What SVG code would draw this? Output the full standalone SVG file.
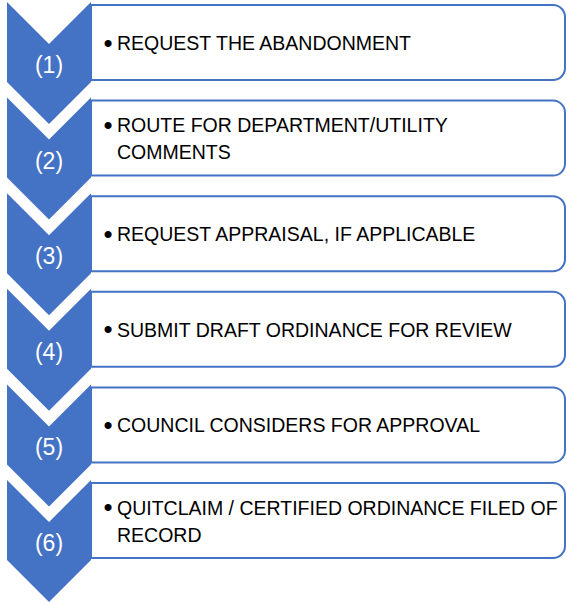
<svg xmlns="http://www.w3.org/2000/svg" xmlns:xlink="http://www.w3.org/1999/xlink" width="567" height="602" viewBox="0 0 567 602">
  <style>
    .chev { fill: #4472C4; }
    .box { fill: #FFFFFF; stroke: #4472C4; stroke-width: 2; }
    .num { font-family: "Liberation Sans", Arial, sans-serif; font-size: 23px; fill: #FFFFFF; text-anchor: middle; }
    .txt { font-family: "Liberation Sans", Arial, sans-serif; font-size: 19.5px; fill: #000000; }
    .bul { font-family: "Liberation Sans", Arial, sans-serif; font-size: 26px; fill: #000000; }
  </style>
  <defs>
    <path id="chev" d="M7,0 L49,42 L91,0 L91,80 L49,122 L7,80 Z"/>
    <path id="box" d="M91,0 H553 A12,12 0 0 1 565,12 V63 A12,12 0 0 1 553,75 H91 Z"/>
  </defs>

  <g id="step1">
    <use xlink:href="#chev" class="chev" transform="translate(0,2)"/>
    <text class="num" x="49" y="73">(1)</text>
    <use xlink:href="#box" class="box" transform="translate(0,5)"/>
    <text class="bul" x="103.5" y="51.5">•</text>
    <text class="txt" x="117" y="50">REQUEST THE ABANDONMENT</text>
  </g>

  <g id="step2">
    <use xlink:href="#chev" class="chev" transform="translate(0,97.6)"/>
    <text class="num" x="49" y="168.6">(2)</text>
    <use xlink:href="#box" class="box" transform="translate(0,100.6)"/>
    <text class="bul" x="103.5" y="133.6">•</text>
    <text class="txt" x="117" y="132.1">ROUTE FOR DEPARTMENT/UTILITY</text>
    <text class="txt" x="117" y="159.1">COMMENTS</text>
  </g>

  <g id="step3">
    <use xlink:href="#chev" class="chev" transform="translate(0,193.2)"/>
    <text class="num" x="49" y="264.2">(3)</text>
    <use xlink:href="#box" class="box" transform="translate(0,196.2)"/>
    <text class="bul" x="103.5" y="242.7">•</text>
    <text class="txt" x="117" y="241.2">REQUEST APPRAISAL, IF APPLICABLE</text>
  </g>

  <g id="step4">
    <use xlink:href="#chev" class="chev" transform="translate(0,288.8)"/>
    <text class="num" x="49" y="359.8">(4)</text>
    <use xlink:href="#box" class="box" transform="translate(0,291.8)"/>
    <text class="bul" x="103.5" y="338.3">•</text>
    <text class="txt" x="117" y="336.8">SUBMIT DRAFT ORDINANCE FOR REVIEW</text>
  </g>

  <g id="step5">
    <use xlink:href="#chev" class="chev" transform="translate(0,384.4)"/>
    <text class="num" x="49" y="455.4">(5)</text>
    <use xlink:href="#box" class="box" transform="translate(0,387.4)"/>
    <text class="bul" x="103.5" y="433.9">•</text>
    <text class="txt" x="117" y="432.4">COUNCIL CONSIDERS FOR APPROVAL</text>
  </g>

  <g id="step6">
    <use xlink:href="#chev" class="chev" transform="translate(0,480)"/>
    <text class="num" x="49" y="551">(6)</text>
    <use xlink:href="#box" class="box" transform="translate(0,483)"/>
    <text class="bul" x="103.5" y="516">•</text>
    <text class="txt" x="117" y="514.5">QUITCLAIM / CERTIFIED ORDINANCE FILED OF</text>
    <text class="txt" x="117" y="541.5">RECORD</text>
  </g>
</svg>
